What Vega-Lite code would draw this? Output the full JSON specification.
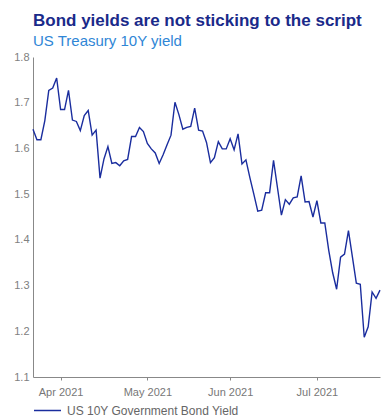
{
  "$schema": "https://vega.github.io/schema/vega-lite/v6.json",
  "width": 347,
  "height": 320,
  "padding": {"left": 13, "top": 12, "right": 8, "bottom": 0},
  "background": "white",
  "title": {
    "text": "Bond yields are not sticking to the script",
    "subtitle": "US Treasury 10Y yield",
    "anchor": "start",
    "frame": "group",
    "font": "Liberation Sans",
    "fontSize": 17,
    "fontWeight": "bold",
    "color": "#1a2a8a",
    "subtitleFont": "Liberation Sans",
    "subtitleFontSize": 15,
    "subtitleColor": "#2f86d6",
    "subtitlePadding": 4,
    "offset": 1
  },
  "config": {
    "view": {"stroke": null},
    "font": "Liberation Sans"
  },
  "data": {
    "values": [
      {"date": "2021-03-23", "yield": 1.642},
      {"date": "2021-03-24", "yield": 1.619},
      {"date": "2021-03-25", "yield": 1.619},
      {"date": "2021-03-26", "yield": 1.661},
      {"date": "2021-03-29", "yield": 1.727},
      {"date": "2021-03-30", "yield": 1.732},
      {"date": "2021-03-31", "yield": 1.754},
      {"date": "2021-04-01", "yield": 1.685},
      {"date": "2021-04-02", "yield": 1.685},
      {"date": "2021-04-05", "yield": 1.727},
      {"date": "2021-04-06", "yield": 1.662},
      {"date": "2021-04-07", "yield": 1.659},
      {"date": "2021-04-08", "yield": 1.639},
      {"date": "2021-04-09", "yield": 1.672},
      {"date": "2021-04-12", "yield": 1.683},
      {"date": "2021-04-13", "yield": 1.629},
      {"date": "2021-04-14", "yield": 1.640},
      {"date": "2021-04-15", "yield": 1.535},
      {"date": "2021-04-16", "yield": 1.577},
      {"date": "2021-04-19", "yield": 1.604},
      {"date": "2021-04-20", "yield": 1.567},
      {"date": "2021-04-21", "yield": 1.569},
      {"date": "2021-04-22", "yield": 1.562},
      {"date": "2021-04-23", "yield": 1.573},
      {"date": "2021-04-26", "yield": 1.576},
      {"date": "2021-04-27", "yield": 1.626},
      {"date": "2021-04-28", "yield": 1.626},
      {"date": "2021-04-29", "yield": 1.646},
      {"date": "2021-04-30", "yield": 1.637},
      {"date": "2021-05-03", "yield": 1.611},
      {"date": "2021-05-04", "yield": 1.599},
      {"date": "2021-05-05", "yield": 1.590},
      {"date": "2021-05-06", "yield": 1.567},
      {"date": "2021-05-07", "yield": 1.586},
      {"date": "2021-05-10", "yield": 1.608},
      {"date": "2021-05-11", "yield": 1.629},
      {"date": "2021-05-12", "yield": 1.701},
      {"date": "2021-05-13", "yield": 1.674},
      {"date": "2021-05-14", "yield": 1.642},
      {"date": "2021-05-17", "yield": 1.646},
      {"date": "2021-05-18", "yield": 1.648},
      {"date": "2021-05-19", "yield": 1.688},
      {"date": "2021-05-20", "yield": 1.640},
      {"date": "2021-05-21", "yield": 1.638},
      {"date": "2021-05-24", "yield": 1.613},
      {"date": "2021-05-25", "yield": 1.569},
      {"date": "2021-05-26", "yield": 1.580},
      {"date": "2021-05-27", "yield": 1.615},
      {"date": "2021-05-28", "yield": 1.599},
      {"date": "2021-05-31", "yield": 1.599},
      {"date": "2021-06-01", "yield": 1.621},
      {"date": "2021-06-02", "yield": 1.597},
      {"date": "2021-06-03", "yield": 1.632},
      {"date": "2021-06-04", "yield": 1.566},
      {"date": "2021-06-07", "yield": 1.575},
      {"date": "2021-06-08", "yield": 1.536},
      {"date": "2021-06-09", "yield": 1.500},
      {"date": "2021-06-10", "yield": 1.463},
      {"date": "2021-06-11", "yield": 1.465},
      {"date": "2021-06-14", "yield": 1.503},
      {"date": "2021-06-15", "yield": 1.503},
      {"date": "2021-06-16", "yield": 1.574},
      {"date": "2021-06-17", "yield": 1.514},
      {"date": "2021-06-18", "yield": 1.454},
      {"date": "2021-06-21", "yield": 1.488},
      {"date": "2021-06-22", "yield": 1.478},
      {"date": "2021-06-23", "yield": 1.492},
      {"date": "2021-06-24", "yield": 1.494},
      {"date": "2021-06-25", "yield": 1.540},
      {"date": "2021-06-28", "yield": 1.483},
      {"date": "2021-06-29", "yield": 1.484},
      {"date": "2021-06-30", "yield": 1.450},
      {"date": "2021-07-01", "yield": 1.486},
      {"date": "2021-07-02", "yield": 1.437},
      {"date": "2021-07-05", "yield": 1.437},
      {"date": "2021-07-06", "yield": 1.377},
      {"date": "2021-07-07", "yield": 1.328},
      {"date": "2021-07-08", "yield": 1.292},
      {"date": "2021-07-09", "yield": 1.362},
      {"date": "2021-07-12", "yield": 1.369},
      {"date": "2021-07-13", "yield": 1.420},
      {"date": "2021-07-14", "yield": 1.363},
      {"date": "2021-07-15", "yield": 1.305},
      {"date": "2021-07-16", "yield": 1.303},
      {"date": "2021-07-19", "yield": 1.187},
      {"date": "2021-07-20", "yield": 1.210},
      {"date": "2021-07-21", "yield": 1.286},
      {"date": "2021-07-22", "yield": 1.272},
      {"date": "2021-07-23", "yield": 1.290}
    ]
  },
  "mark": {"type": "line", "strokeWidth": 1.4, "interpolate": "linear"},
  "encoding": {
    "x": {
      "field": "date",
      "type": "ordinal",
      "sort": null,
      "scale": {"type": "point", "padding": 0},
      "axis": {
        "title": null,
        "values": ["2021-04-01", "2021-05-03", "2021-06-01", "2021-07-01"],
        "labelExpr": "utcFormat(toDate(datum.value), '%b %Y')",
        "labelAngle": 0,
        "labelFontSize": 11,
        "labelColor": "#777777",
        "labelPadding": 6,
        "tickSize": 3,
        "tickColor": "#888888",
        "domainColor": "#888888",
        "grid": false
      }
    },
    "y": {
      "field": "yield",
      "type": "quantitative",
      "scale": {"domain": [1.1, 1.8], "nice": false, "zero": false},
      "axis": {
        "title": null,
        "values": [1.1, 1.2, 1.3, 1.4, 1.5, 1.6, 1.7, 1.8],
        "format": ".1f",
        "ticks": false,
        "grid": false,
        "labelFontSize": 11,
        "labelColor": "#808080",
        "labelPadding": 4,
        "domainColor": "#888888"
      }
    },
    "color": {
      "datum": "US 10Y Government Bond Yield",
      "type": "nominal",
      "scale": {"range": ["#1a2d9e"]},
      "legend": {
        "title": null,
        "orient": "bottom",
        "direction": "horizontal",
        "symbolType": "stroke",
        "symbolSize": 729,
        "symbolStrokeWidth": 1.5,
        "labelFontSize": 12,
        "labelColor": "#666666",
        "labelOffset": 5,
        "labelLimit": 400,
        "offset": -1,
        "padding": 0
      }
    }
  }
}
